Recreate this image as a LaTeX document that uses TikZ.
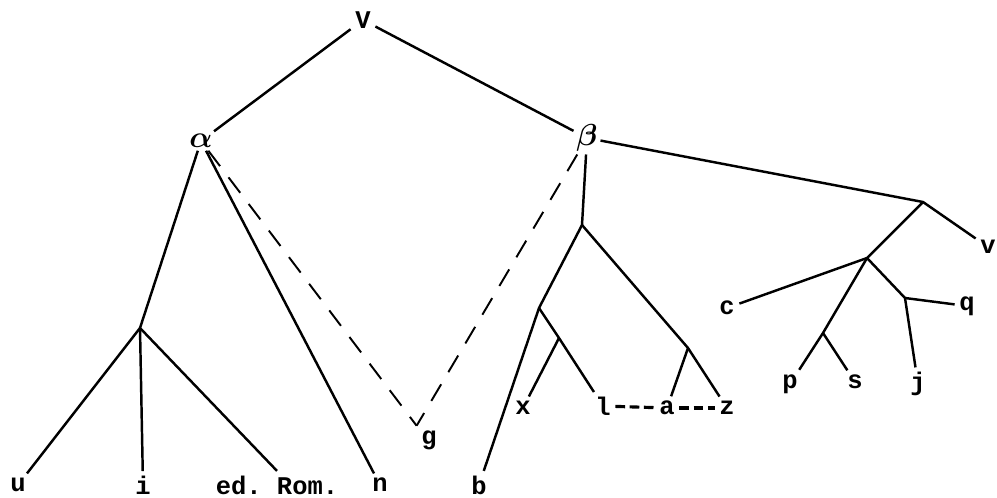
\documentclass[tikz,border=0pt]{standalone}
\usepackage{fontspec}
\setmonofont{Liberation Mono}
\begin{document}
\begin{tikzpicture}[x=0.02cm,y=-0.02cm,
  lbl/.style={font=\ttfamily\bfseries\fontsize{14.5}{16}\selectfont, inner sep=2.5pt},
  greek/.style={font=\boldmath\fontsize{19}{21}\selectfont, inner sep=1.5pt},
  branch/.style={line width=1.4pt},
  dashedge/.style={line width=1.1pt, dash pattern=on 11pt off 8pt},
  dots/.style={line width=1.8pt, dash pattern=on 5.5pt off 2.6pt}]
\useasboundingbox (0,0) rectangle (997,497);
% labels
\node[lbl] (V) at (363,20) {V};
\node[greek] (alpha) at (201,141) {$\alpha$};
\node[greek] (beta) at (587,138) {$\beta$};
\node[lbl] (u) at (18,485) {u};
\node[lbl] (i) at (143,485) {i};
\node[lbl] (ed) at (277,485) {ed. Rom.};
\node[lbl] (n) at (380,485) {n};
\node[lbl] (g) at (429,440) {g};
\node[lbl] (b) at (479,485) {b};
\node[lbl] (x) at (523,408) {x};
\node[lbl] (l) at (603,406) {l};
\node[lbl] (a) at (667,408) {a};
\node[lbl] (z) at (727,408) {z};
\node[lbl] (c) at (727,308) {c};
\node[lbl] (p) at (790,384) {p};
\node[lbl] (s) at (855,382) {s};
\node[lbl] (j) at (918,384) {j};
\node[lbl] (q) at (967,306) {q};
\node[lbl] (v) at (988,247) {v};
% junctions
\coordinate (j1) at (140,328);
\coordinate (j2) at (582,225);
\coordinate (j3) at (539,308);
\coordinate (j4) at (559,338);
\coordinate (j5) at (688,348);
\coordinate (j6) at (923,202);
\coordinate (j7) at (867,258);
\coordinate (j8) at (823,333);
\coordinate (j9) at (905,298);
% branches
\draw[branch] (V) -- (alpha);
\draw[branch] (V) -- (beta);
\draw[branch] (alpha) -- (j1);
\draw[branch] (j1) -- (u);
\draw[branch] (j1) -- (i);
\draw[branch] (j1) -- (ed.north);
\draw[branch] (alpha) -- (n);
\draw[dashedge] (alpha) -- (g.north west);
\draw[dashedge] (beta) -- (g.north west);
\draw[branch] (beta) -- (j2);
\draw[branch] (j2) -- (j3) -- (b);
\draw[branch] (j3) -- (j4) -- (l);
\draw[branch] (j4) -- (x);
\draw[branch] (j2) -- (j5) -- (z);
\draw[branch] (j5) -- (a);
\draw[dots] (l) -- (a);
\draw[dots] (a) -- (z);
\draw[branch] (beta) -- (j6) -- (v);
\draw[branch] (j6) -- (j7) -- (c);
\draw[branch] (j7) -- (j8) -- (p);
\draw[branch] (j8) -- (s);
\draw[branch] (j7) -- (j9) -- (q);
\draw[branch] (j9) -- (j);
\end{tikzpicture}
\end{document}
